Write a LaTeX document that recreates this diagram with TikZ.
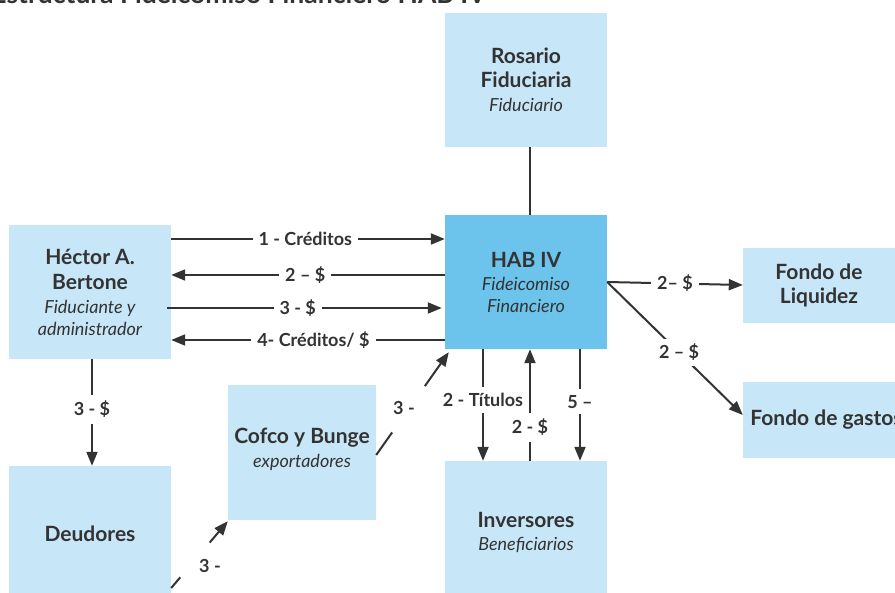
\documentclass[tikz,border=0pt]{standalone}
\usepackage{fontspec}
\setmainfont{Lato}
\usetikzlibrary{arrows.meta,calc}
\definecolor{lightbox}{RGB}{199,230,247}
\definecolor{habblue}{RGB}{108,195,236}
\definecolor{ink}{RGB}{51,51,51}
\newcommand{\boxbf}{\bfseries\fontsize{21}{24}\selectfont}
\newcommand{\boxit}{\itshape\fontsize{18}{24}\selectfont}
\begin{document}
\begin{tikzpicture}[x=1pt,y=-1pt,
 box/.style={fill=lightbox, inner sep=0pt, align=center, text=ink, font=\fontsize{21}{24}\selectfont},
 arr/.style={draw=ink, line width=2pt, -{Triangle[length=14pt,width=11pt]}},
 ln/.style={draw=ink, line width=2pt},
 lbl/.style={fill=white, text=ink, font=\bfseries\fontsize{18}{20}\selectfont, inner xsep=6pt, inner ysep=3pt},
 vlbl/.style={lbl, inner xsep=2pt, inner ysep=6pt},
 txt/.style={text=ink, font=\bfseries\fontsize{18}{20}\selectfont, inner sep=0pt},
]
\clip (0,0) rectangle (895,593);
\fill[white] (0,0) rectangle (895,593);
\node[anchor=base east, text=ink, font=\bfseries\fontsize{26.5}{30}\selectfont] (title) at (490,4) {Estructura Fideicomiso Financiero HAB IV};
% boxes
\node[box, minimum width=162, minimum height=134] (rosario) at (526,80) {\boxbf Rosario\\ \boxbf Fiduciaria\\ \boxit Fiduciario};
\node[box, fill=habblue, minimum width=162, minimum height=134] (hab) at (526,282) {\boxbf HAB IV\\[-1pt] \boxit Fideicomiso\\[-2pt] \boxit Financiero};
\node[box, minimum width=162, minimum height=134] (hector) at (90,292) {\boxbf Héctor A.\\[1pt] \boxbf Bertone\\ \boxit Fiduciante y\\[-2pt] \boxit administrador};
\node[box, minimum width=152, minimum height=75] (liq) at (819,285.5) {\boxbf Fondo de\\ \boxbf Liquidez};
\node[box, minimum width=167, minimum height=76] (gastos) at (826.5,420) {\boxbf Fondo de gastos};
\node[box, minimum width=162, minimum height=136] (deud) at (90,534) {\boxbf Deudores};
\node[box, minimum width=148, minimum height=135] (cofco) at (302,452.5) {\boxbf Cofco y Bunge\\ \boxit exportadores\\[-14pt]};
\node[box, minimum width=162, minimum height=144] (inv) at (526,533) {\boxbf Inversores\\[-1pt] \boxit Beneficiarios};
% connectors
\draw[ln] ($(rosario.south)+(4,0)$) -- ($(hab.north)+(4,0)$);
\draw[arr] (hector.east |- 0,239) -- node[lbl, pos=0.49]{1 - Créditos} (hab.west |- 0,239);
\draw[arr] (hab.west |- 0,275) -- node[lbl, pos=0.51]{2 – \$} (hector.east |- 0,275);
\draw[arr, shorten >=3pt] ([xshift=-4pt]hector.east |- 0,308) -- node[lbl, pos=0.47]{3 - \$} (hab.west |- 0,308);
\draw[arr] (hab.west |- 0,340) -- node[lbl, pos=0.48]{4- Créditos/ \$} (hector.east |- 0,340);
\draw[arr] (hector.south -| 92,0) -- node[vlbl, pos=0.47]{3 - \$} (deud.north -| 92,0);
\draw[arr] (hab.south -| 483,0) -- node[vlbl, pos=0.455]{2 - Títulos} (inv.north -| 483,0);
\draw[arr] (inv.north -| 530,0) -- node[vlbl, pos=0.3]{2 - \$} (hab.south -| 530,0);
\draw[arr] (hab.south -| 580,0) -- node[vlbl, pos=0.47]{5 –} (inv.north -| 580,0);
\draw[arr] (hab.east) -- node[lbl, pos=0.5]{2– \$} (liq.west |- 0,285);
\draw[arr] (hab.east) -- node[lbl, pos=0.53, inner ysep=5pt]{2 – \$} (gastos.west |- 0,415);
% diagonal connectors with gaps
\coordinate (c1) at (cofco.east |- 0,455);
\coordinate (c2) at ($(hab.south west)+(4,3)$);
\draw[ln] (c1) -- ($(c1)!0.22!(c2)$);
\draw[arr] ($(c1)!0.67!(c2)$) -- (c2);
\node[txt] (l3a) at (404,408) {3 -};
\coordinate (d1) at (deud.east |- 0,588);
\coordinate (d2) at ($(cofco.south west)+(0,1)$);
\draw[ln] (d1) -- ($(d1)!0.16!(d2)$);
\draw[arr] ($(d1)!0.68!(d2)$) -- (d2);
\node[txt] (l3b) at (210,566) {3 -};
\end{tikzpicture}
\end{document}
